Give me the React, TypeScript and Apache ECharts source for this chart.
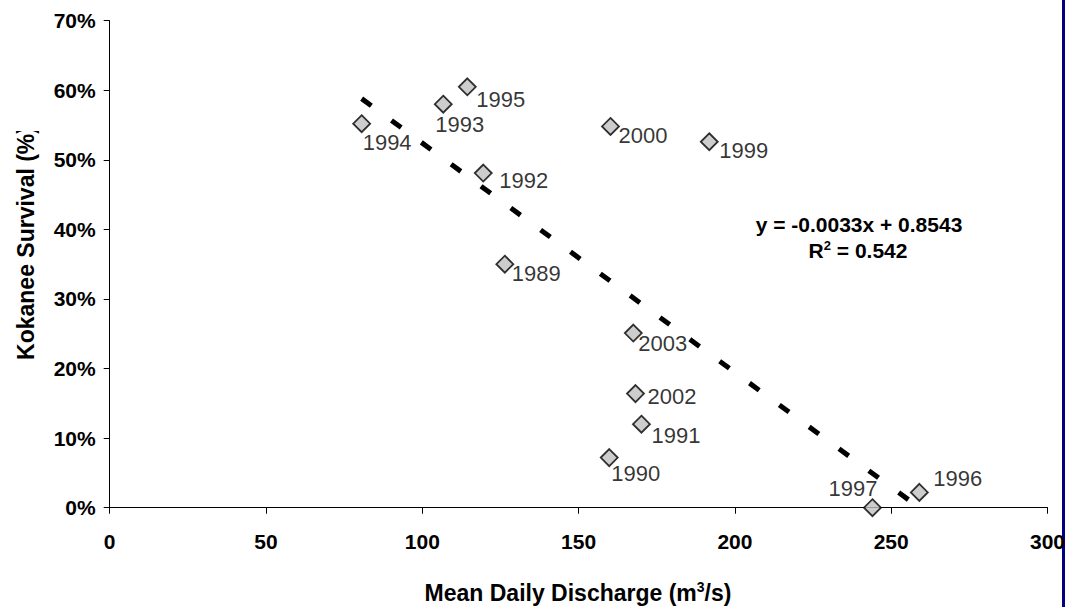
import React, { useEffect, useRef } from "react";
import * as echarts from "echarts";

const years = ["1989", "1990", "1991", "1992", "1993", "1994", "1995", "1996", "1997", "1999", "2000", "2002", "2003"];
const discharge = [126.4, 159.8, 170.1, 119.5, 106.7, 80.6, 114.4, 259.0, 244.0, 191.8, 160.2, 168.2, 167.5];
const survival = [0.35, 0.072, 0.12, 0.481, 0.58, 0.552, 0.605, 0.022, 0.0, 0.526, 0.548, 0.164, 0.251];
// label placement relative to each marker [dx, dy, align]
const labelPlace: [number, number, string][] = [
  [7, 9, "left"],
  [2, 16, "left"],
  [10, 11, "left"],
  [16, 7, "left"],
  [-8, 20, "left"],
  [1, 19, "left"],
  [9, 13, "left"],
  [14, -14, "left"],
  [5, -19, "right"],
  [10, 9, "left"],
  [8, 9, "left"],
  [12, 3, "left"],
  [5, 10, "left"],
];
const trendX = [80.6, 259.0];
const trendY = [0.588, 0.0];
const xTicks = { min: 0, max: 300, interval: 50 };
const yTicks = { min: 0, max: 0.7, interval: 0.1 };
const equationText = "y = -0.0033x + 0.8543";
const r2Value = "0.542";

export default function App() {
  const ref = useRef<HTMLDivElement>(null);
  useEffect(() => {
    if (!ref.current) return;
    const chart = echarts.init(ref.current, null, { renderer: "svg" });
    const font = "'Liberation Sans', Arial, sans-serif";
    const points = years.map((y, i) => ({
      name: y,
      value: [discharge[i], survival[i]],
      label: {
        offset: [labelPlace[i][0], labelPlace[i][1]],
        align: labelPlace[i][2],
      },
    }));
    chart.setOption({
      animation: false,
      backgroundColor: "#ffffff",
      grid: { left: 109.7, right: 29.5, top: 20.7, bottom: 99.3, containLabel: false },
      xAxis: {
        type: "value",
        min: xTicks.min,
        max: xTicks.max,
        interval: xTicks.interval,
        splitLine: { show: false },
        axisLine: { show: true, onZero: false, lineStyle: { color: "#000", width: 1 } },
        axisTick: { show: true, inside: false, length: 6, lineStyle: { color: "#000" } },
        axisLabel: { margin: 23, color: "#000", fontFamily: font, fontWeight: "bold", fontSize: 21 },
      },
      yAxis: {
        type: "value",
        min: yTicks.min,
        max: yTicks.max,
        interval: yTicks.interval,
        splitLine: { show: false },
        axisLine: { show: true, lineStyle: { color: "#000", width: 1 } },
        axisTick: { show: true, inside: false, length: 6, lineStyle: { color: "#000" } },
        axisLabel: {
          margin: 14,
          color: "#000",
          fontFamily: font,
          fontWeight: "bold",
          fontSize: 21,
          formatter: (v: number) => Math.round(v * 100) + "%",
        },
      },
      series: [
        {
          type: "line",
          data: trendX.map((x, i) => [x, trendY[i]]),
          symbol: "none",
          silent: true,
          lineStyle: { color: "#000", width: 5, type: [12, 25], cap: "butt" },
          z: 3,
        },
        {
          type: "scatter",
          data: points,
          symbol: "diamond",
          symbolSize: [17, 17],
          itemStyle: { color: "#c0c0c0", borderColor: "#000", borderWidth: 1.8 },
          label: {
            show: true,
            position: "inside",
            formatter: (p: any) => p.name,
            color: "#000",
            textBorderWidth: 0,
            textBorderColor: "transparent",
            fontFamily: font,
            fontSize: 22,
            verticalAlign: "middle",
          },
          z: 2,
        },
      ],
      graphic: [
        {
          type: "text",
          x: 26,
          y: 243,
          rotation: Math.PI / 2,
          style: {
            text: "Kokanee Survival (%)",
            fontFamily: font,
            fontWeight: "bold",
            fontSize: 23,
            fill: "#000",
            align: "center",
            verticalAlign: "middle",
          },
        },
        {
          type: "rect",
          shape: { x: 0, y: 0, width: 45, height: 131 },
          style: { fill: "#fff" },
          z: 100,
        },
        {
          type: "text",
          x: 578,
          y: 593,
          style: {
            text: "Mean Daily Discharge (m{sup|3}/s)",
            fontFamily: font,
            fontWeight: "bold",
            fontSize: 23,
            fill: "#000",
            align: "center",
            verticalAlign: "middle",
            rich: {
              sup: { fontFamily: font, fontWeight: "bold", fontSize: 14, verticalAlign: "top", padding: [0, 0, 12, 0] },
            },
          },
        },
        {
          type: "text",
          x: 859,
          y: 224,
          style: {
            text: equationText,
            fontFamily: font,
            fontWeight: "bold",
            fontSize: 21,
            fill: "#000",
            align: "center",
            verticalAlign: "middle",
          },
        },
        {
          type: "text",
          x: 858,
          y: 250,
          style: {
            text: "R{sup|2} = " + r2Value,
            fontFamily: font,
            fontWeight: "bold",
            fontSize: 21,
            fill: "#000",
            align: "center",
            verticalAlign: "middle",
            rich: {
              sup: { fontFamily: font, fontWeight: "bold", fontSize: 13, verticalAlign: "top", padding: [0, 0, 9, 0] },
            },
          },
        },
        {
          type: "rect",
          shape: { x: 1062, y: 0, width: 3, height: 607 },
          style: { fill: "#000080" },
        },
      ],
    });
    return () => chart.dispose();
  }, []);
  return (
    <div
      ref={ref}
      style={{ position: "absolute", left: 0, top: 0, width: 1077, height: 607 }}
    />
  );
}
